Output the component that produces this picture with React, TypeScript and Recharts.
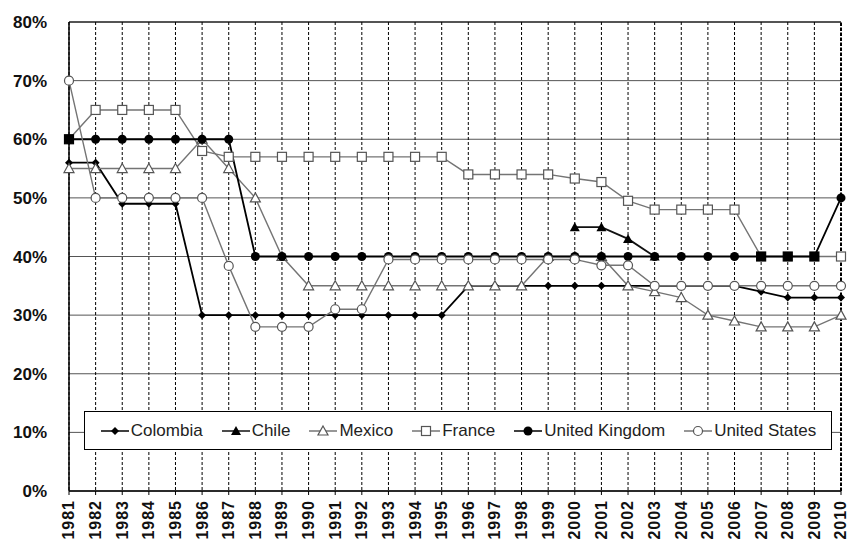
import React from 'react';
import { LineChart, Line, XAxis, YAxis, CartesianGrid, ReferenceLine } from 'recharts';

const years = [
  '1981', '1982', '1983', '1984', '1985', '1986', '1987', '1988', '1989', '1990',
  '1991', '1992', '1993', '1994', '1995', '1996', '1997', '1998', '1999', '2000',
  '2001', '2002', '2003', '2004', '2005', '2006', '2007', '2008', '2009', '2010',
];

const colombia = [56, 56, 49, 49, 49, 30, 30, 30, 30, 30, 30, 30, 30, 30, 30, 35, 35, 35, 35, 35, 35, 35, 35, 35, 35, 35, 34, 33, 33, 33];
const chile = [null, null, null, null, null, null, null, null, null, null, null, null, null, null, null, null, null, null, null, 45, 45, 43, 40, null, null, null, null, null, null, null];
const mexico = [55, 55, 55, 55, 55, 60, 55, 50, 40, 35, 35, 35, 35, 35, 35, 35, 35, 35, 40, 40, 40, 35, 34, 33, 30, 29, 28, 28, 28, 30];
const france = [60, 65, 65, 65, 65, 58, 57, 57, 57, 57, 57, 57, 57, 57, 57, 54, 54, 54, 54, 53.3, 52.7, 49.5, 48, 48, 48, 48, 40, 40, 40, 40];
const uk = [60, 60, 60, 60, 60, 60, 60, 40, 40, 40, 40, 40, 40, 40, 40, 40, 40, 40, 40, 40, 40, 40, 40, 40, 40, 40, 40, 40, 40, 50];
const us = [70, 50, 50, 50, 50, 50, 38.4, 28, 28, 28, 31, 31, 39.5, 39.5, 39.5, 39.5, 39.5, 39.5, 39.5, 39.5, 38.5, 38.5, 35, 35, 35, 35, 35, 35, 35, 35];

const yTicks = [0, 10, 20, 30, 40, 50, 60, 70, 80];

const data = years.map((year, i) => ({
  year,
  colombia: colombia[i],
  chile: chile[i],
  mexico: mexico[i],
  france: france[i],
  uk: uk[i],
  us: us[i],
}));

const FONT = '"Liberation Sans", Arial, sans-serif';
const GRAY = '#747474';

// marker shapes, shared by the lines and the legend
const drawMarker = (shape: string, cx: number, cy: number, key?: any, dark?: boolean) => {
  if (cx == null || cy == null || isNaN(cy)) return <g key={key} />;
  switch (shape) {
    case 'diamond':
      return <path key={key} d={`M${cx},${cy - 4}L${cx + 4},${cy}L${cx},${cy + 4}L${cx - 4},${cy}Z`} fill="#000" />;
    case 'triFilled':
      return <path key={key} d={`M${cx},${cy - 5}L${cx + 5},${cy + 4}L${cx - 5},${cy + 4}Z`} fill="#000" />;
    case 'triOpen':
      return <path key={key} d={`M${cx},${cy - 5}L${cx + 5},${cy + 4}L${cx - 5},${cy + 4}Z`} fill="#fff" stroke="#555" strokeWidth={1.2} />;
    case 'square':
      return <rect key={key} x={cx - 4.5} y={cy - 4.5} width={9} height={9} fill={dark ? '#000' : '#fff'} stroke={dark ? '#000' : '#555'} strokeWidth={1.2} />;
    case 'dotFilled':
      return <circle key={key} cx={cx} cy={cy} r={4.5} fill="#000" />;
    default:
      return <circle key={key} cx={cx} cy={cy} r={4.5} fill="#fff" stroke="#555" strokeWidth={1.2} />;
  }
};

const series = [
  { key: 'colombia', name: 'Colombia', color: '#000', shape: 'diamond' },
  { key: 'chile', name: 'Chile', color: '#111', shape: 'triFilled' },
  { key: 'mexico', name: 'Mexico', color: GRAY, shape: 'triOpen' },
  { key: 'france', name: 'France', color: GRAY, shape: 'square' },
  { key: 'uk', name: 'United Kingdom', color: '#000', shape: 'dotFilled' },
  { key: 'us', name: 'United States', color: GRAY, shape: 'dotOpen' },
];

const YearTick = ({ x, y, payload }: any) => (
  <text
    x={0}
    y={0}
    transform={`translate(${x},${y + 3}) rotate(-90)`}
    textAnchor="end"
    dy="0.34em"
    fontSize={16}
    fontWeight="bold"
    letterSpacing={1}
    fill="#111"
    fontFamily={FONT}
  >
    {payload.value}
  </text>
);

const LegendBox = () => (
  <div
    style={{
      position: 'absolute',
      left: 84,
      top: 411,
      width: 746,
      height: 37,
      border: '1px solid #000',
      background: '#fff',
      display: 'flex',
      alignItems: 'center',
      justifyContent: 'center',
      fontFamily: FONT,
      fontSize: 17,
      color: '#222',
    }}
  >
    {series.map((s, i) => (
      <div key={s.key} style={{ display: 'flex', alignItems: 'center', marginLeft: i === 0 ? 0 : 18 }}>
        <svg width={30} height={14}>
          <line x1={1} y1={7} x2={29} y2={7} stroke={s.color} strokeWidth={1.5} />
          {drawMarker(s.shape, 15, 7)}
        </svg>
        <span style={{ marginLeft: 1 }}>{s.name}</span>
      </div>
    ))}
  </div>
);

export default function App() {
  return (
    <div style={{ position: 'absolute', left: 0, top: 0, width: 849, height: 545, background: '#fff' }}>
      <LineChart width={849} height={545} data={data} margin={{ top: 22, right: 8, bottom: 0, left: 0 }}>
        <CartesianGrid vertical={false} stroke="#555" strokeWidth={1} />
        <CartesianGrid horizontal={false} stroke="#000" strokeDasharray="3 2" strokeWidth={1} />
        <XAxis
          dataKey="year"
          interval={0}
          height={54}
          tickSize={4}
          tickMargin={2}
          tick={<YearTick />}
          axisLine={{ stroke: '#000', strokeWidth: 1.5 }}
          tickLine={{ stroke: '#000' }}
        />
        <YAxis
          width={69}
          domain={[0, 80]}
          ticks={yTicks}
          tickFormatter={(v: number) => `${v}%`}
          tickLine={false}
          tickMargin={16}
          axisLine={{ stroke: '#000', strokeWidth: 1.5 }}
          tick={{ fontSize: 17, fontWeight: 'bold', fill: '#111', fontFamily: FONT }}
        />
        <ReferenceLine y={80} stroke="#000" strokeWidth={1.2} />
        <ReferenceLine x="2010" stroke="#000" strokeWidth={2} strokeDasharray="3 2" />
        {series.map((s) => (
          <Line
            key={s.key}
            dataKey={s.key}
            name={s.name}
            stroke={s.color}
            strokeWidth={s.color === GRAY ? 1.4 : 1.8}
            isAnimationActive={false}
            connectNulls={false}
            dot={(p: any) =>
              drawMarker(
                s.shape,
                p.cx,
                p.cy,
                `${s.key}-${p.index}`,
                s.key === 'france' && france[p.index] === uk[p.index],
              )
            }
          />
        ))}
      </LineChart>
      <LegendBox />
    </div>
  );
}
